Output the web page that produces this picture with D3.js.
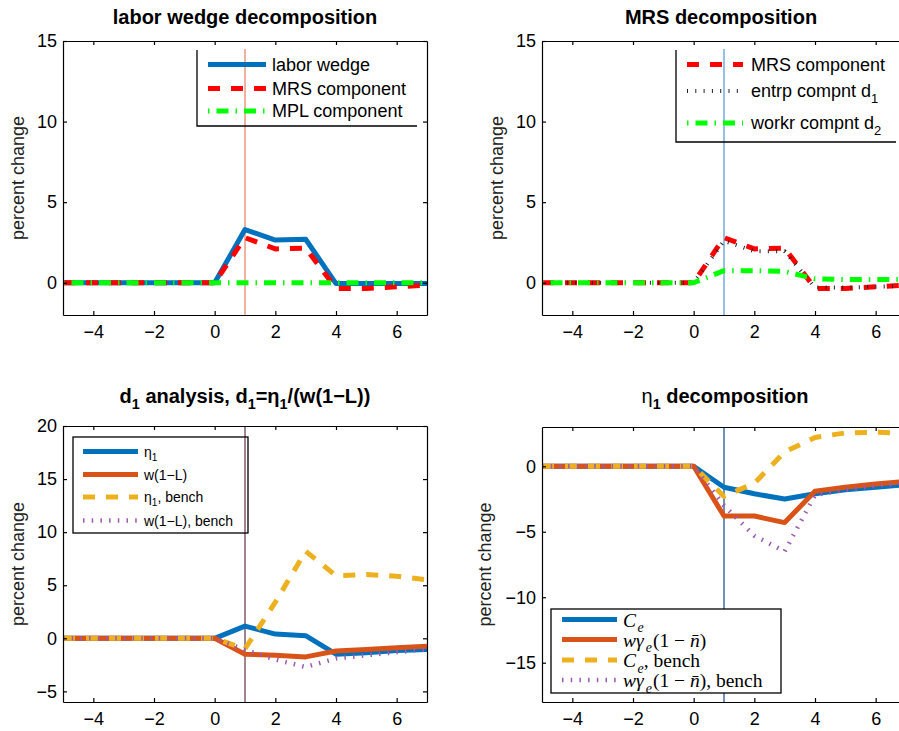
<!DOCTYPE html>
<html>
<head>
<meta charset="utf-8">
<script src="https://cdn.jsdelivr.net/npm/d3@7"></script>
<style>
  body { margin: 0; background: #fff; }
  text { font-family: "Liberation Sans", Arial, sans-serif; fill: #000; }
</style>
</head>
<body>
<div id="container"></div>
<script>
/* CONSTANTS AND GLOBALS */
const width = 899, height = 731;

/* DATA */
const periods = [-5, -4, -3, -2, -1, 0, 1, 2, 3, 4, 5, 6, 7];
const xTicks = [-4, -2, 0, 2, 4, 6];
const yTicksTop = [0, 5, 10, 15];
const yTicksD1 = [-5, 0, 5, 10, 15, 20];
const yTicksEta = [-15, -10, -5, 0];

// labor wedge decomposition
const laborWedge   = [0, 0, 0, 0, 0, 0, 3.3, 2.65, 2.7, -0.05, -0.05, -0.05, -0.05];
const mrsComponent = [0, 0, 0, 0, 0, 0, 2.8, 2.1, 2.15, -0.35, -0.35, -0.25, -0.15];
const mplComponent = [0, 0, 0, 0, 0, 0, 0, 0, 0, 0, 0, 0, 0];
// MRS decomposition
const entrpD1 = [0, 0, 0, 0, 0, 0, 2.6, 1.95, 1.95, -0.3, -0.3, -0.25, -0.2];
const workrD2 = [0, 0, 0, 0, 0, 0, 0.75, 0.75, 0.7, 0.25, 0.2, 0.2, 0.2];
// d1 analysis
const eta1       = [0, 0, 0, 0, 0, 0, 1.15, 0.4, 0.25, -1.5, -1.35, -1.15, -1.05];
const wOneL      = [0, 0, 0, 0, 0, 0, -1.5, -1.6, -1.75, -1.2, -1.05, -0.9, -0.75];
const eta1Bench  = [0, 0, 0, 0, 0, 0, -1.0, 3.4, 8.2, 5.9, 6.0, 5.85, 5.5];
const wOneLBench = [0, 0, 0, 0, 0, 0, -1.1, -2.0, -2.7, -1.9, -1.6, -1.3, -1.05];
// eta1 decomposition
const cE          = [0, 0, 0, 0, 0, 0, -1.6, -2.1, -2.5, -2.1, -1.8, -1.6, -1.4];
const wGamma      = [0, 0, 0, 0, 0, 0, -3.8, -3.8, -4.3, -1.9, -1.6, -1.35, -1.15];
const cEBench     = [0, 0, 0, 0, 0, 0, -2.3, -1.3, 1.1, 2.2, 2.55, 2.6, 2.5];
const wGammaBench = [0, 0, 0, 0, 0, 0, -3.0, -5.3, -6.5, -2.2, -1.8, -1.5, -1.25];

/* LINE STYLES */
const st = {
  blue:     { color: "#0072BD", w: 5, dash: null },
  redDash:  { color: "#FF0000", w: 5, dash: "12,11" },
  greenDD:  { color: "#00FF00", w: 5, dash: "1.5,7,12,7" },
  blackDot: { color: "#222", w: 4, dash: "1,7.3" },
  orange:   { color: "#D95319", w: 5, dash: null },
  yellow:   { color: "#EDB120", w: 5, dash: "12,11" },
  purple:   { color: "#9b5bb0", w: 4.5, dash: "1.5,7.2" }
};

const sub = t => ({ t, sub: true });

/* PANELS */
const panels = [
  {
    left: 63, right: 427, top: 41, bottom: 315, yDomain: [-2, 15], yTicks: yTicksTop,
    title: [{ t: "labor wedge decomposition" }], titleX: 245, titleY: 24,
    ylabelX: 24,
    vline: { from: 14.5, to: -2, color: "#E9A088" },
    series: [
      { v: laborWedge, s: st.blue, label: [{ t: "labor wedge" }] },
      { v: mrsComponent, s: st.redDash, label: [{ t: "MRS component" }] },
      { v: mplComponent, s: st.greenDD, label: [{ t: "MPL component" }] }
    ],
    legend: { x0: 197, x1: 417, y0: 50, y1: 126, frame: "lb", fill: false,
      rows: [64.5, 88.5, 111], s0: 208, s1: 266, tx: 272, font: 18, serif: false }
  },
  {
    left: 542, right: 906, top: 41, bottom: 315, yDomain: [-2, 15], yTicks: yTicksTop,
    title: [{ t: "MRS decomposition" }], titleX: 721, titleY: 24,
    ylabelX: 503,
    vline: { from: 14.5, to: -2, color: "#7DB1DB" },
    series: [
      { v: mrsComponent, s: st.redDash, label: [{ t: "MRS component" }] },
      { v: entrpD1, s: st.blackDot, label: [{ t: "entrp compnt d" }, sub("1")] },
      { v: workrD2, s: st.greenDD, label: [{ t: "workr compnt d" }, sub("2")] }
    ],
    legend: { x0: 676, x1: 896, y0: 50, y1: 142, frame: "lb", fill: false,
      rows: [64.5, 91, 123], s0: 687, s1: 743, tx: 751, font: 18, serif: false }
  },
  {
    left: 63, right: 427, top: 426, bottom: 702, yDomain: [-6, 20], yTicks: yTicksD1,
    title: [{ t: "d" }, sub("1"), { t: " analysis, d" }, sub("1"), { t: "=η" }, sub("1"), { t: "/(w(1\u2212L))" }],
    titleX: 245, titleY: 403,
    ylabelX: 24,
    vline: { from: 20, to: -6, color: "#8B6577" },
    series: [
      { v: eta1, s: st.blue, label: [{ t: "η" }, sub("1")] },
      { v: wOneL, s: st.orange, label: [{ t: "w(1\u2212L)" }] },
      { v: eta1Bench, s: st.yellow, label: [{ t: "η" }, sub("1"), { t: ", bench" }] },
      { v: wOneLBench, s: st.purple, label: [{ t: "w(1\u2212L), bench" }] }
    ],
    legend: { x0: 73, x1: 248, y0: 437, y1: 533, frame: "all", fill: false,
      rows: [451.5, 474.5, 497, 520.5], s0: 83, s1: 138, tx: 144, font: 14, serif: false }
  },
  {
    left: 542, right: 906, top: 427, bottom: 702, yDomain: [-18, 3], yTicks: yTicksEta,
    title: [{ t: "η", normal: true }, sub("1"), { t: " decomposition" }], titleX: 725, titleY: 403,
    ylabelX: 491,
    vline: { from: 3, to: -18, color: "#4A76A8" },
    series: [
      { v: cE, s: st.blue, label: [{ t: "C", i: true }, { t: "e", i: true, sub: true, dx: 1.5 }] },
      { v: wGamma, s: st.orange, label: [{ t: "wγ", i: true }, { t: "e", i: true, sub: true, dx: 2 }, { t: "(1 \u2212 ", dx: 1 }, { t: "n\u0304", i: true }, { t: ")" }] },
      { v: cEBench, s: st.yellow, label: [{ t: "C", i: true }, { t: "e", i: true, sub: true, dx: 1.5 }, { t: ", bench" }] },
      { v: wGammaBench, s: st.purple, label: [{ t: "wγ", i: true }, { t: "e", i: true, sub: true, dx: 2 }, { t: "(1 \u2212 ", dx: 1 }, { t: "n\u0304", i: true }, { t: "), bench" }] }
    ],
    legend: { x0: 551, x1: 781, y0: 609, y1: 693, frame: "all", fill: true,
      rows: [619.5, 639.5, 660, 680], s0: 562, s1: 617, tx: 623, font: 19.5, serif: true }
  }
];

/* SVG */
const svg = d3.select("#container")
  .append("svg")
  .attr("width", width)
  .attr("height", height);

// writes text parts; a subscript is shifted down and the next part shifted back up
function writeParts(textSel, parts, fontSize) {
  const shift = fontSize * 0.3;
  let down = false;
  parts.forEach(p => {
    const ts = textSel.append("tspan").text(p.t);
    if (p.sub && !down) { ts.attr("dy", shift); down = true; }
    else if (!p.sub && down) { ts.attr("dy", -shift); down = false; }
    if (p.dx) ts.attr("dx", p.dx);
    if (p.sub) ts.style("font-size", (fontSize * 0.72) + "px");
    if (p.i) ts.style("font-style", "italic");
    if (p.normal) ts.style("font-weight", "normal");
  });
}

function drawPanel(p) {
  const xScale = d3.scaleLinear().domain([-5, 7]).range([p.left, p.right]);
  const yScale = d3.scaleLinear().domain(p.yDomain).range([p.bottom, p.top]);
  const g = svg.append("g");

  // vertical marker at period 1
  g.append("line")
    .attr("x1", xScale(1)).attr("x2", xScale(1))
    .attr("y1", yScale(p.vline.from)).attr("y2", yScale(p.vline.to))
    .attr("stroke", p.vline.color).attr("stroke-width", 1.6);

  const line = d3.line().x((d, i) => xScale(periods[i])).y(d => yScale(d));

  p.series.forEach(s => {
    g.append("path")
      .datum(s.v)
      .attr("d", line)
      .attr("fill", "none")
      .attr("stroke", s.s.color)
      .attr("stroke-width", s.s.w)
      .attr("stroke-dasharray", s.s.dash)
      .attr("stroke-linejoin", "round");
  });

  // axes box
  const tick = 4;
  const fmt = d => d < 0 ? "\u2212" + Math.abs(d) : d;
  g.append("g").attr("transform", `translate(0,${p.bottom})`)
    .call(d3.axisBottom(xScale).tickValues(xTicks).tickSizeInner(-tick).tickSizeOuter(0).tickPadding(10).tickFormat(fmt));
  g.append("g").attr("transform", `translate(0,${p.top})`)
    .call(d3.axisTop(xScale).tickValues(xTicks).tickSizeInner(-tick).tickSizeOuter(0).tickFormat(""));
  g.append("g").attr("transform", `translate(${p.left},0)`)
    .call(d3.axisLeft(yScale).tickValues(p.yTicks).tickSizeInner(-tick).tickSizeOuter(0).tickPadding(6).tickFormat(fmt));
  g.append("g").attr("transform", `translate(${p.right},0)`)
    .call(d3.axisRight(yScale).tickValues(p.yTicks).tickSizeInner(-tick).tickSizeOuter(0).tickFormat(""));
  g.selectAll(".domain, .tick line").attr("stroke", "#000").attr("stroke-width", 1.2);
  g.selectAll(".tick text").attr("font-family", "Liberation Sans, Arial, sans-serif").attr("font-size", 18).attr("fill", "#000");

  // y label
  g.append("text")
    .attr("transform", `translate(${p.ylabelX},${(p.top + p.bottom) / 2}) rotate(-90)`)
    .style("text-anchor", "middle")
    .style("font-size", "18px")
    .style("fill", "#222")
    .text("percent change");

  // title
  const t = g.append("text")
    .attr("x", p.titleX).attr("y", p.titleY)
    .style("text-anchor", "middle")
    .style("font-size", "20px")
    .style("font-weight", "bold");
  writeParts(t, p.title, 20);

  // legend
  const lg = p.legend;
  const lgG = g.append("g");
  if (lg.frame === "all") {
    lgG.append("rect").attr("x", lg.x0).attr("y", lg.y0)
      .attr("width", lg.x1 - lg.x0).attr("height", lg.y1 - lg.y0)
      .attr("fill", lg.fill ? "#fff" : "none").attr("stroke", "#000").attr("stroke-width", 1.3);
  } else {
    lgG.append("path")
      .attr("d", `M${lg.x0},${lg.y0}V${lg.y1}H${lg.x1}`)
      .attr("fill", "none").attr("stroke", "#000").attr("stroke-width", 1.3);
  }
  p.series.forEach((s, i) => {
    const yy = lg.rows[i];
    lgG.append("line")
      .attr("x1", lg.s0).attr("x2", lg.s1).attr("y1", yy).attr("y2", yy)
      .attr("stroke", s.s.color).attr("stroke-width", s.s.w)
      .attr("stroke-dasharray", s.s.dash);
    const tx = lgG.append("text")
      .attr("x", lg.tx).attr("y", yy + lg.font * 0.36)
      .style("font-size", lg.font + "px");
    if (lg.serif) tx.style("font-family", "'Liberation Serif', 'DejaVu Serif', serif");
    writeParts(tx, s.label, lg.font);
  });
}

panels.forEach(drawPanel);
</script>
</body>
</html>
